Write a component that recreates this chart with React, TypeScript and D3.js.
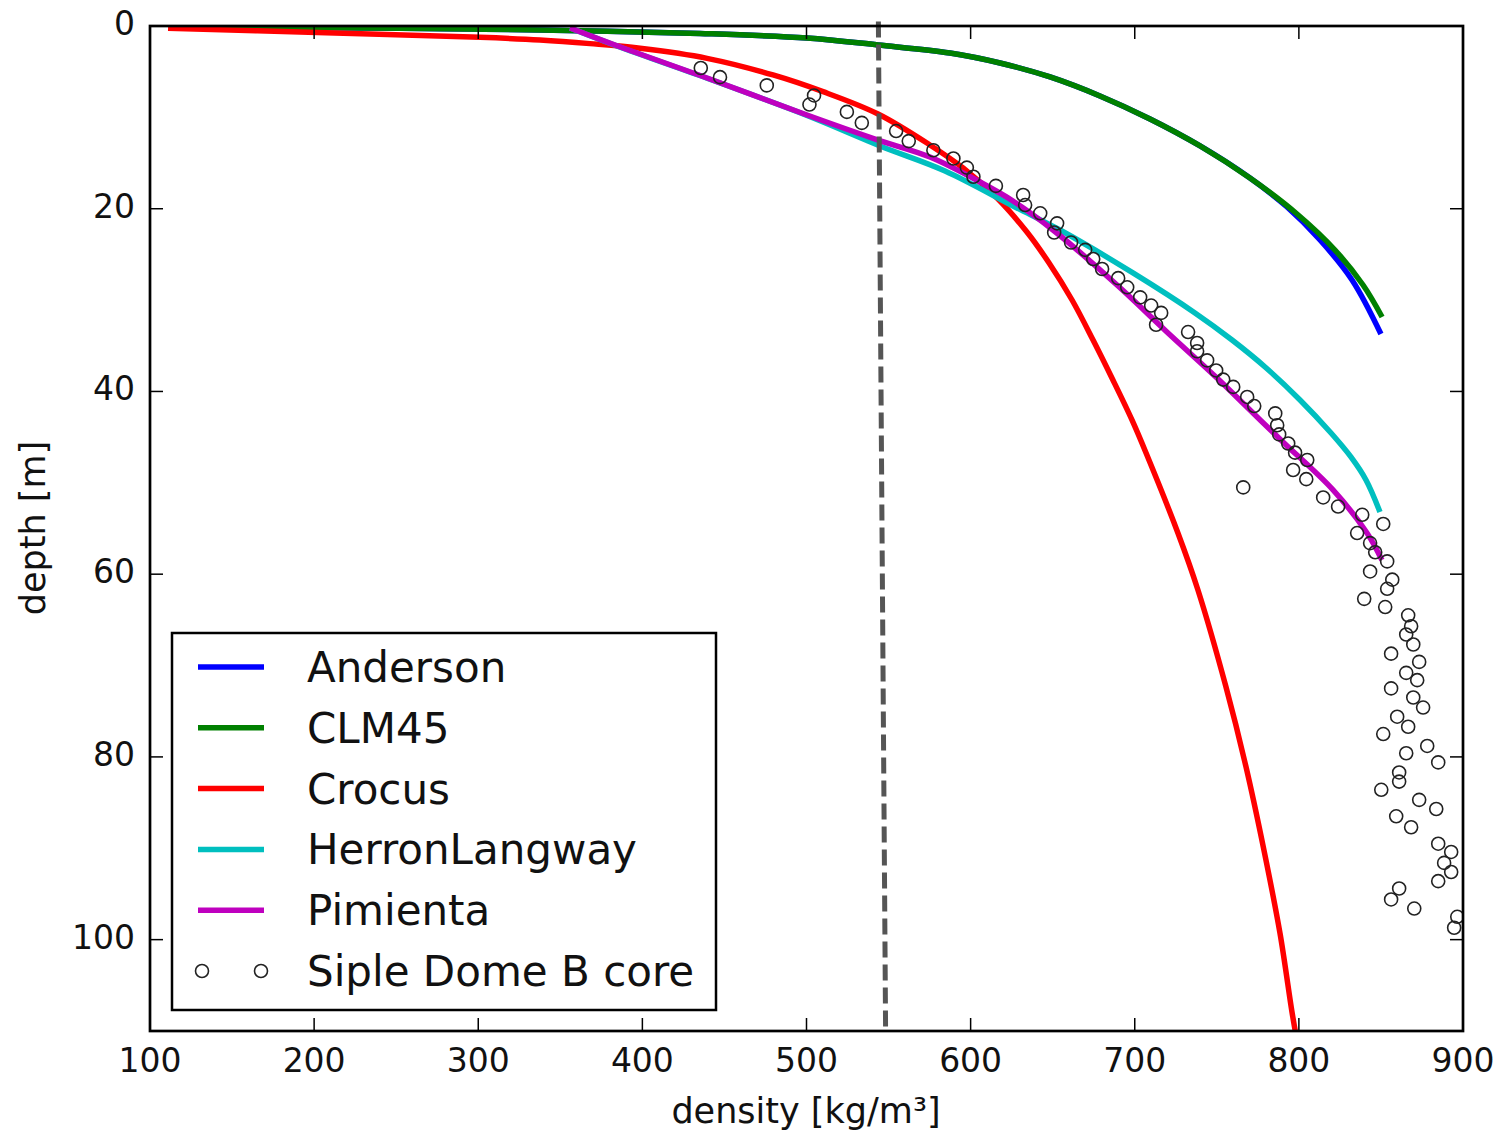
import React from "react";
import * as d3 from "d3";

type P = [number, number]; // [density, depth]

const xTicks = [100, 200, 300, 400, 500, 600, 700, 800, 900];
const yTicks = [0, 20, 40, 60, 80, 100];

const anderson: P[] = [
  [112.2, 0.11], [252.3, 0.25], [337.6, 0.44], [435.1, 0.82], [500.3, 1.31],
  [543.6, 2.08], [587.4, 2.96], [617.9, 4.05], [648.4, 5.58], [678.8, 7.66],
  [709.3, 10.18], [739.8, 13.13], [770.2, 16.64], [792.8, 19.81], [812.9, 23.42],
  [832.4, 27.8], [850.0, 33.71],
];
const clm45: P[] = [
  [112.2, 0.11], [252.3, 0.25], [337.6, 0.44], [435.1, 0.82], [500.3, 1.31],
  [543.6, 2.08], [587.4, 2.96], [617.9, 4.05], [648.4, 5.58], [678.8, 7.66],
  [709.3, 10.18], [739.8, 13.13], [770.2, 16.64], [798.9, 20.58], [822.0, 24.52],
  [839.1, 28.35], [850.7, 31.85],
];
const crocus: P[] = [
  [111.0, 0.25], [201.8, 0.72], [301.1, 1.24], [337.6, 1.53], [368.1, 1.93],
  [398.6, 2.44], [439.4, 3.54], [479.6, 5.36], [510.1, 7.19], [543.6, 9.63],
  [575.2, 13.02], [595.4, 15.54], [616.1, 18.83], [634.3, 22.55], [647.8, 25.94],
  [661.8, 29.99], [674.6, 34.37], [686.7, 38.75], [698.3, 43.12], [706.9, 46.74],
  [726.3, 55.49], [738.5, 61.73], [755.6, 72.35], [767.8, 81.1], [778.7, 90.19],
  [788.5, 99.3], [795.8, 107.92], [798.2, 110.4],
];
const herron: P[] = [
  [355.9, 0.22], [388.2, 2.44], [439.4, 5.72], [500.3, 9.8], [544.8, 13.13],
  [584.4, 15.87], [627.0, 19.81], [654.5, 22.33], [698.9, 27.03], [736.7, 31.41],
  [759.3, 34.37], [779.4, 37.32], [800.7, 40.93], [819.6, 44.55], [831.7, 47.17],
  [840.9, 49.69], [849.4, 53.19],
];
const pimienta: P[] = [
  [355.9, 0.22], [388.2, 2.41], [439.4, 5.69], [500.3, 9.74], [543.6, 12.48],
  [575.2, 14.34], [605.7, 17.07], [625.8, 19.15], [650.2, 22.33], [689.2, 28.35],
  [719.6, 33.49], [750.1, 38.53], [770.2, 42.03], [790.3, 45.53], [820.8, 50.78],
  [841.5, 55.49], [850.6, 58.45],
];
const sipleDome: P[] = [
  [435.6, 4.6], [447.3, 5.6], [475.8, 6.5], [504.6, 7.6], [501.8, 8.6], [524.6, 9.4],
  [533.7, 10.6], [554.6, 11.5], [562.3, 12.6], [577.3, 13.6], [589.5, 14.5],
  [597.7, 15.5], [601.7, 16.5], [615.4, 17.5], [632, 18.5], [633.2, 19.6],
  [642.4, 20.5], [652.7, 21.6], [650.9, 22.6], [661.2, 23.7], [669.8, 24.5],
  [674.7, 25.5], [680.1, 26.6], [689.9, 27.6], [695.4, 28.6], [703.3, 29.7],
  [710, 30.6], [716.1, 31.4], [713, 32.7], [732.5, 33.5], [738, 34.7],
  [738, 35.6], [744.1, 36.6], [749.6, 37.7], [753.9, 38.7], [760, 39.5],
  [768.5, 40.6], [772.8, 41.6], [785.6, 42.4], [786.8, 43.7], [788, 44.7],
  [793.5, 45.7], [797.7, 46.7], [805.1, 47.5], [796.5, 48.6], [804.5, 49.6],
  [766.1, 50.5], [814.8, 51.6], [823.9, 52.6], [838.6, 53.5], [851.4, 54.5],
  [835.5, 55.5], [843.4, 56.6], [846.5, 57.6], [853.8, 58.6], [843.4, 59.7],
  [856.9, 60.6], [853.8, 61.6], [839.8, 62.7], [852.6, 63.6], [866.6, 64.5],
  [868.4, 65.7], [865.4, 66.6], [869.7, 67.7], [856.2, 68.7], [873.3, 69.6],
  [865.4, 70.8], [872.1, 71.6], [856.2, 72.5], [869.7, 73.5], [875.7, 74.6],
  [859.9, 75.6], [866.6, 76.7], [851.4, 77.5], [878.2, 78.8], [865.4, 79.6],
  [884.9, 80.6], [861.1, 81.7], [861.1, 82.7], [850.2, 83.6], [873.3, 84.7],
  [883.7, 85.7], [859.3, 86.5], [868.4, 87.7], [884.9, 89.5], [892.8, 90.4],
  [888.5, 91.6], [892.8, 92.6], [884.9, 93.6], [861.1, 94.4], [856.2, 95.6],
  [870.3, 96.6], [896.5, 97.5], [894.6, 98.7],
];
const dashedRef: P[] = [[543.8, -0.5], [548.2, 110.1]];

const seriesNames = ["Anderson", "CLM45", "Crocus", "HerronLangway", "Pimienta"];
const seriesColors = ["#0000ff", "#008000", "#ff0000", "#00bfbf", "#bf00bf"];
const seriesData = [anderson, clm45, crocus, herron, pimienta];
const dataName = "Siple Dome B core";

const W = 1502;
const H = 1134;
const FONT = "'DejaVu Sans', sans-serif";

export default function App() {
  const x = d3.scaleLinear().domain([100, 900]).range([150, 1463]);
  const y = d3.scaleLinear().domain([0, 110]).range([26, 1031]);
  const [x0, x1] = x.range();
  const [y0, y1] = y.range();

  const line = d3
    .line<P>()
    .x((d) => x(d[0]))
    .y((d) => y(d[1]))
    .curve(d3.curveCatmullRom.alpha(0.5));
  const straight = d3
    .line<P>()
    .x((d) => x(d[0]))
    .y((d) => y(d[1]));

  const tickLen = 13;
  const legendX = 172;
  const legendY = 633;
  const legendW = 544;
  const legendH = 377;
  const rowY = (i: number) => 667 + i * 60.8;

  return (
    <svg
      width={W}
      height={H}
      style={{ position: "absolute", left: 0, top: 0, background: "#fff" }}
      fontFamily={FONT}
    >
      <defs>
        <clipPath id="plotClip">
          <rect x={x0} y={y0} width={x1 - x0} height={y1 - y0} />
        </clipPath>
      </defs>
      <rect x={0} y={0} width={W} height={H} fill="#fff" />

      <g clipPath="url(#plotClip)">
        {seriesData.map((d, i) => (
          <path
            key={seriesNames[i]}
            d={line(d) || ""}
            fill="none"
            stroke={seriesColors[i]}
            strokeWidth={5.5}
            strokeLinejoin="round"
          />
        ))}
        {sipleDome.map((d, i) => (
          <circle
            key={i}
            cx={x(d[0])}
            cy={y(d[1])}
            r={6.5}
            fill="none"
            stroke="#222"
            strokeWidth={1.6}
          />
        ))}
      </g>

      <path
        d={straight(dashedRef) || ""}
        fill="none"
        stroke="#555"
        strokeWidth={5}
        strokeDasharray="16,7"
      />

      {xTicks.map((t) => (
        <g key={"x" + t}>
          <line x1={x(t)} x2={x(t)} y1={y1} y2={y1 - tickLen} stroke="#000" strokeWidth={1.5} />
          <line x1={x(t)} x2={x(t)} y1={y0} y2={y0 + tickLen} stroke="#000" strokeWidth={1.5} />
          <text x={x(t)} y={1072} fontSize={33} textAnchor="middle" fill="#111">
            {t}
          </text>
        </g>
      ))}
      {yTicks.map((t) => (
        <g key={"y" + t}>
          <line x1={x0} x2={x0 + tickLen} y1={y(t)} y2={y(t)} stroke="#000" strokeWidth={1.5} />
          <line x1={x1} x2={x1 - tickLen} y1={y(t)} y2={y(t)} stroke="#000" strokeWidth={1.5} />
          <text x={135} y={y(t) + 9} fontSize={33} textAnchor="end" fill="#111">
            {t}
          </text>
        </g>
      ))}

      <rect x={x0} y={y0} width={x1 - x0} height={y1 - y0} fill="none" stroke="#000" strokeWidth={2.7} />

      <text x={806} y={1123} fontSize={35} textAnchor="middle" fill="#111">
        density [kg/m³]
      </text>
      <text
        transform="translate(45,528) rotate(-90)"
        fontSize={35}
        textAnchor="middle"
        fill="#111"
      >
        depth [m]
      </text>

      <rect x={legendX} y={legendY} width={legendW} height={legendH} fill="#fff" stroke="#000" strokeWidth={2.5} />
      {seriesNames.map((n, i) => (
        <g key={"leg" + n}>
          <line x1={198} x2={264} y1={rowY(i)} y2={rowY(i)} stroke={seriesColors[i]} strokeWidth={5.5} />
          <text x={307} y={rowY(i) + 15} fontSize={42} fill="#111">
            {n}
          </text>
        </g>
      ))}
      <circle cx={202} cy={rowY(5)} r={6.5} fill="none" stroke="#222" strokeWidth={1.6} />
      <circle cx={261} cy={rowY(5)} r={6.5} fill="none" stroke="#222" strokeWidth={1.6} />
      <text x={307} y={rowY(5) + 15} fontSize={42} fill="#111">
        {dataName}
      </text>
    </svg>
  );
}
